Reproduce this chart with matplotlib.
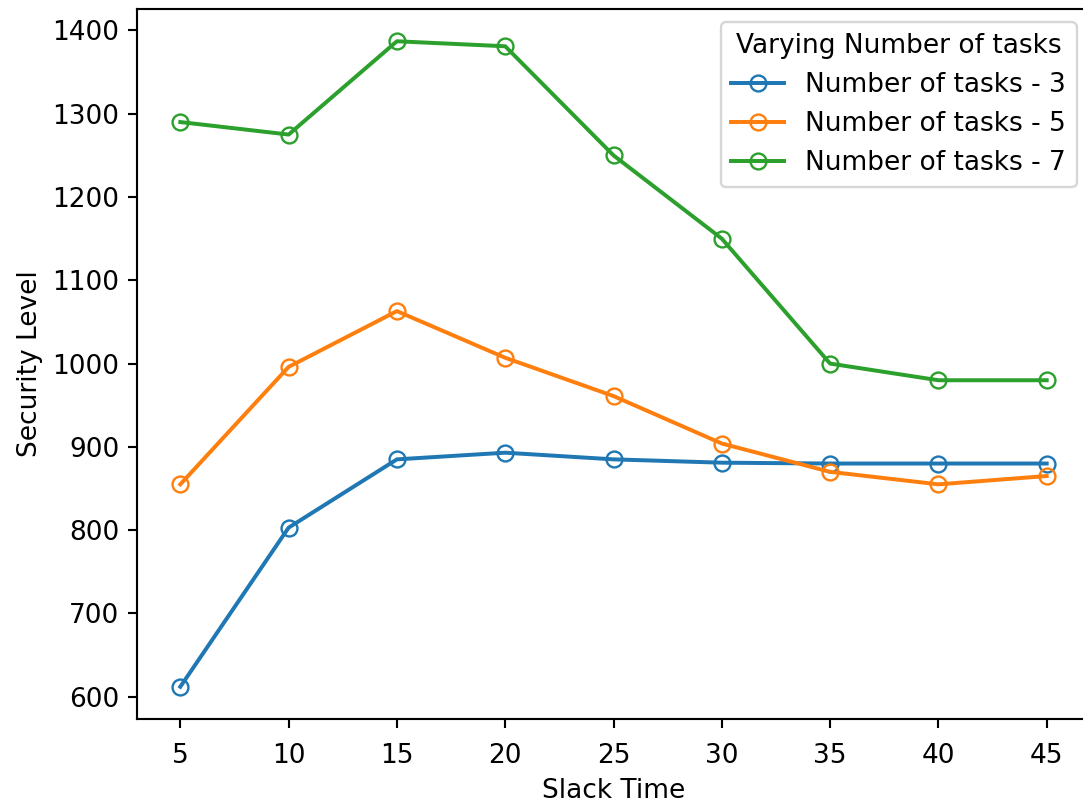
import matplotlib
matplotlib.use("Agg")
import matplotlib.pyplot as plt

slack = [5, 10, 15, 20, 25, 30, 35, 40, 45]
tasks_3 = [612, 803, 885, 893, 885, 881, 880, 880, 880]
tasks_5 = [855, 996, 1063, 1007, 961, 904, 870, 855, 865]
tasks_7 = [1290, 1275, 1387, 1381, 1250, 1150, 1000, 980, 980]

# reference looks like it was rendered ~1.12x larger than default
s = 1.12
plt.rcParams["font.size"] = 10 * s
plt.rcParams["lines.linewidth"] = 1.5 * s
plt.rcParams["lines.markersize"] = 6 * s
plt.rcParams["axes.linewidth"] = 0.8 * s
plt.rcParams["xtick.major.width"] = 0.8 * s
plt.rcParams["ytick.major.width"] = 0.8 * s
plt.rcParams["xtick.major.size"] = 3.5 * s
plt.rcParams["ytick.major.size"] = 3.5 * s
plt.rcParams["xtick.major.pad"] = 6.2

dpi = 170
fig = plt.figure(figsize=(1083 / dpi, 805 / dpi), dpi=dpi)
# right spine sits just past the image edge in the reference (cropped)
ax = fig.add_axes([137 / 1083, 86 / 805, (1090 - 137) / 1083, (719 - 9) / 805])

ax.plot(slack, tasks_3, marker="o", mfc="none", label="Number of tasks - 3")
ax.plot(slack, tasks_5, marker="o", mfc="none", label="Number of tasks - 5")
ax.plot(slack, tasks_7, marker="o", mfc="none", label="Number of tasks - 7")

ax.set_xticks(slack)
ax.set_xlabel("Slack Time")
ax.set_ylabel("Security Level")
ax.legend(title="Varying Number of tasks", loc="upper right")

fig.savefig("out.png", dpi=dpi)
